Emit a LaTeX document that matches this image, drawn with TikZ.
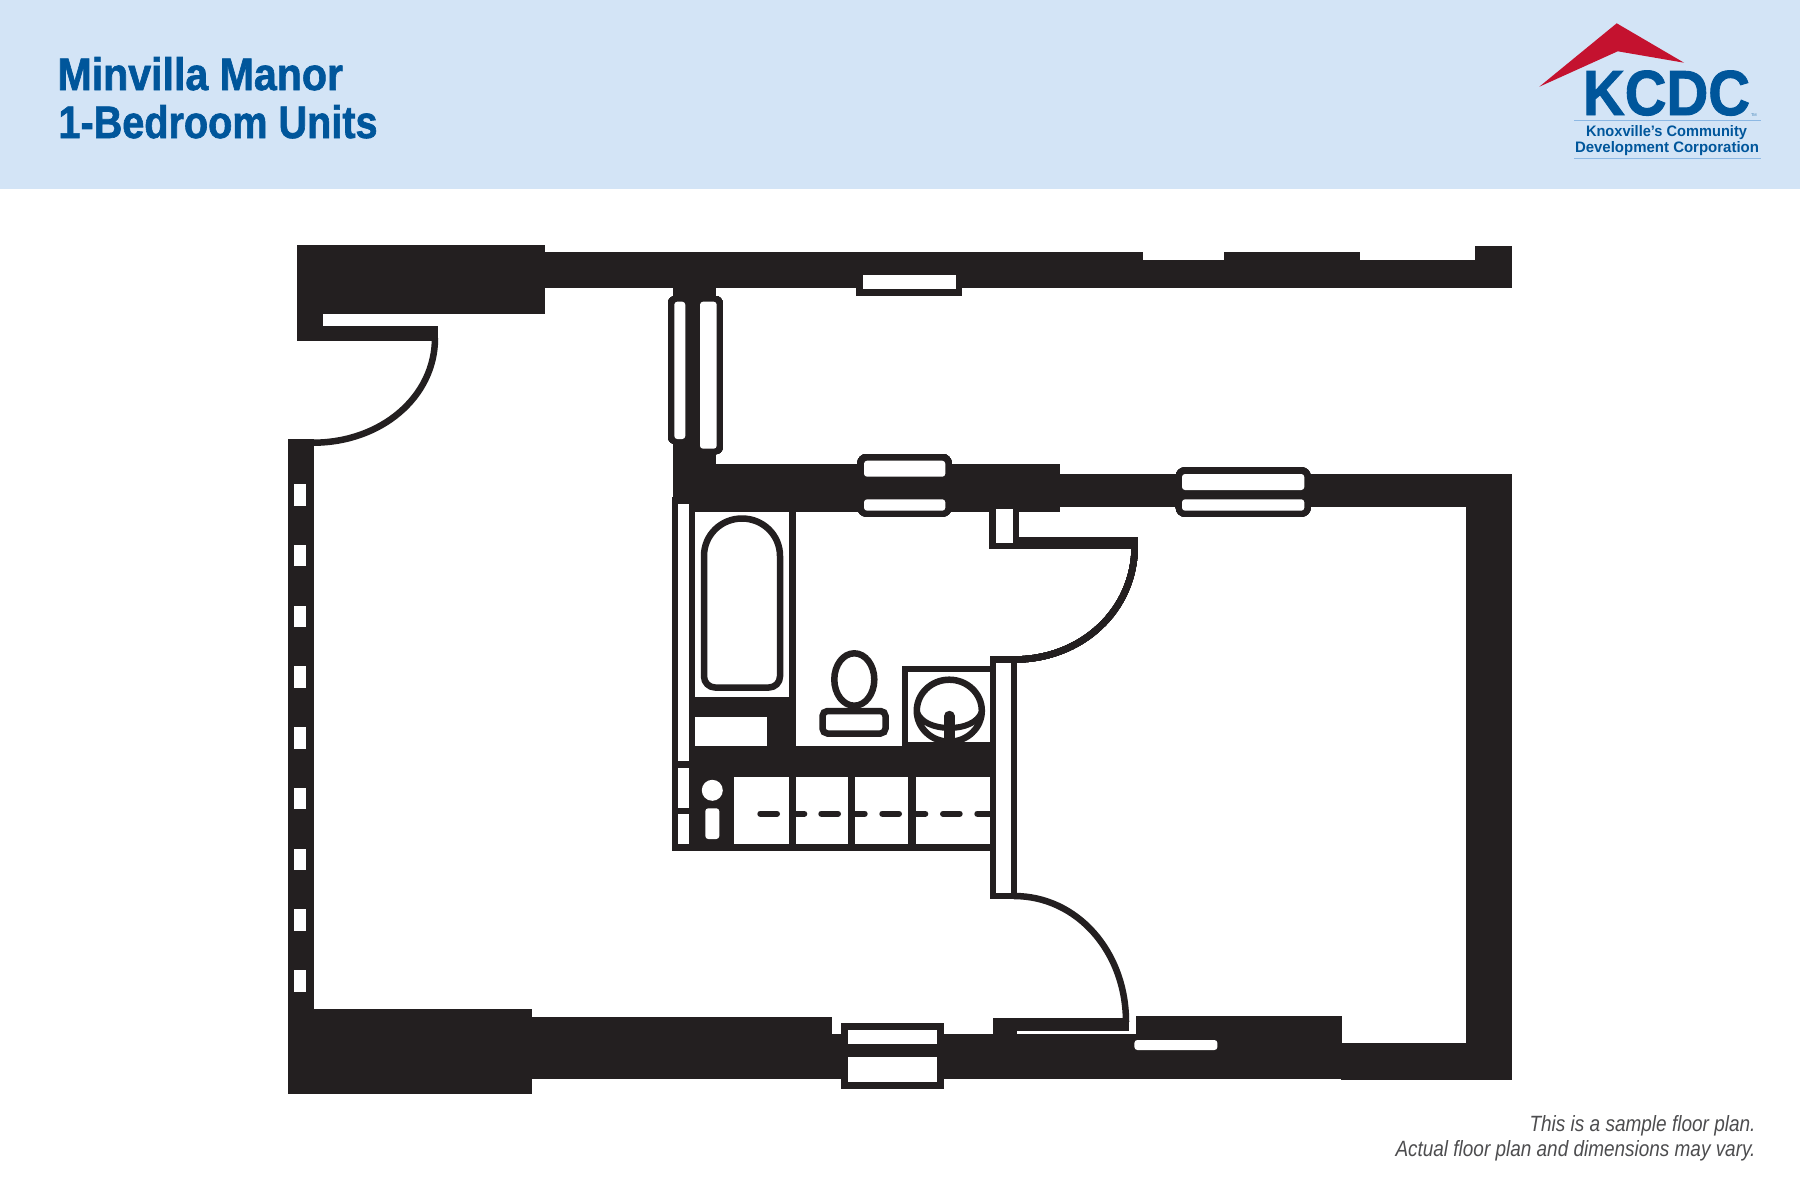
\documentclass[tikz,border=0pt]{standalone}
\usepackage{graphicx}
\usepackage{fontspec}
\setmainfont{Liberation Sans}
\newfontfamily\heavyfont[UprightFont=* Bold,FakeBold=1.5]{Liberation Sans}
\definecolor{hdr}{HTML}{D3E4F6}
\definecolor{kblue}{HTML}{00569B}
\definecolor{kred}{HTML}{C4122F}
\definecolor{kline}{HTML}{8DB8E3}
\definecolor{wallc}{HTML}{231F20}
\definecolor{noteg}{HTML}{4D4D4F}
\newcommand\wallrect[4]{\fill[wallc] (#1,#2) rectangle (#3,#4);}
\newcommand\openrect[4]{\fill[white] (#1,#2) rectangle (#3,#4);}
\newcommand\slotrect[4]{\fill[white,rounded corners=3pt] (#1,#2) rectangle (#3,#4);}
\newcommand\roundwall[5]{\fill[wallc,rounded corners=#5pt] (#1,#2) rectangle (#3,#4);}
\newcommand\fitbox[3]{\resizebox{#1pt}{#2pt}{#3}}
\tikzset{
  txt/.style={inner sep=0pt,outer sep=0pt,anchor=base west},
  thick line/.style={draw=wallc,line width=6.5pt},
  dashmark/.style={draw=wallc,line width=6pt,line cap=round},
}
\begin{document}
\begin{tikzpicture}[x=1pt,y=-1pt]
\useasboundingbox (0,0) rectangle (1800,1200);
\fill[white] (0,0) rectangle (1800,1200);
\fill[hdr] (0,0) rectangle (1800,189);
% title
\node[txt,text=kblue] (title1) at (57.5,90) {\fitbox{285.5}{33}{\heavyfont Minvilla Manor}};
\node[txt,text=kblue] (title2) at (58.5,138) {\fitbox{319}{33}{\heavyfont 1-Bedroom Units}};
% logo
\fill[kred] (1539.3,86.7) -- (1616.7,23.3) -- (1684,62.7) -- (1617.7,51.3) -- cycle;
\node[txt,text=kblue] (logoa) at (1583,115) {\fitbox{167}{44.5}{\heavyfont KCDC}};
\node[txt,text=kblue!70!hdr] (logotm) at (1751,116) {\fontsize{4}{4}\selectfont TM};
\draw[kline,line width=1pt] (1574,120.3) -- (1761,120.3);
\draw[kline,line width=1pt] (1574,158) -- (1761,158);
\node[txt,text=kblue] (logob) at (1586,136) {\fitbox{161}{11}{\bfseries Knoxville’s Community}};
\node[txt,text=kblue] (logoc) at (1575,152.7) {\fitbox{184}{11}{\bfseries Development Corporation}};
% note
\node[txt,text=noteg] (note1) at (1529.5,1131) {\fitbox{226}{16}{\itshape This is a sample floor plan.}};
\node[txt,text=noteg] (note2) at (1395.5,1156) {\fitbox{360}{16}{\itshape Actual floor plan and dimensions may vary.}};

% top-left block and door
\wallrect{297}{245.3}{544.6}{314.3}
\wallrect{297}{314}{323}{341}
\wallrect{297}{326}{438}{341}
\draw[thick line] (435,338) .. controls (435,397.2) and (380.8,442.7) .. (313,442.7);
% left wall
\wallrect{287.7}{439.3}{313.5}{1010}
\foreach \y in {484,544.75,605.5,666.25,727,787.75,848.5,909.25,970}
  \openrect{294.3}{\y}{306}{\y+21.7}
% top wall
\wallrect{544}{252.3}{1143.3}{288.3}
\wallrect{1143}{260.3}{1224.3}{288.3}
\wallrect{1224.3}{252.3}{1360}{288.3}
\wallrect{1360}{260.3}{1475.3}{288.3}
\wallrect{1475.3}{245.7}{1512}{288.3}
% top-wall window
\wallrect{856.3}{288}{962.3}{296}
\openrect{862.7}{275}{955.7}{289.3}
% stem with window
\wallrect{673.3}{288}{716}{470}
\roundwall{668}{296}{692}{444}{7}
\roundwall{695}{296}{722.7}{454.3}{7}
\wallrect{685}{296}{700}{444}
\slotrect{674.3}{301.7}{685.3}{439}
\slotrect{700}{301.7}{716.7}{448.7}
% second wall
\wallrect{673.3}{464.3}{1060}{511.7}
\wallrect{1060}{474}{1511.5}{507}
\roundwall{857.3}{454}{951.7}{516.7}{9}
\slotrect{864}{460.7}{945.3}{476.7}
\slotrect{864}{499.3}{945.3}{510.7}
\roundwall{1175.7}{467.3}{1310.7}{516.7}{9}
\slotrect{1182}{474}{1304.3}{490}
\slotrect{1182}{499.3}{1304.3}{510.7}
% right wall and bottom right
\wallrect{1466}{474}{1511.7}{1079.7}
\wallrect{1341}{1043.3}{1511.7}{1079.7}
% bottom wall
\wallrect{287.7}{1009}{531.7}{1094}
\wallrect{531}{1017.3}{832.4}{1079.3}
\wallrect{832}{1034.3}{1136}{1079.3}
\wallrect{993}{1018.3}{1016.5}{1034.3}
\wallrect{1016.5}{1018.3}{1129}{1030.7}
\wallrect{1136}{1015.7}{1341.8}{1079.3}
\slotrect{1134.4}{1040}{1217.4}{1050}
\wallrect{840.8}{1023}{943.8}{1088.7}
\openrect{847.7}{1030}{937}{1044}
\openrect{847.7}{1057}{937}{1081.7}
% upper door jamb and leaf
\wallrect{989.3}{509}{1019.3}{549.3}
\openrect{996}{509.3}{1012.7}{542.7}
\wallrect{1019}{537.3}{1138}{549.3}
\draw[thick line] (1134.7,546) .. controls (1134.7,610) and (1082,659.5) .. (1014,659.5);
% lower door
\draw[thick line] (1014,896) .. controls (1077,896) and (1126,951.5) .. (1126,1022);
% bath left column
\wallrect{671.5}{497.3}{695}{850.7}
\openrect{677.7}{504.3}{689}{761}
\openrect{677.7}{767.7}{689}{808.3}
\openrect{677.7}{814.3}{689}{844}
% tub alcove
\wallrect{789.3}{505}{796}{746}
\wallrect{695}{697.3}{796}{746}
\openrect{695}{717.3}{766.7}{746}
% band and closet
\wallrect{689}{746}{996}{776.7}
\wallrect{689}{776.7}{734.3}{850.7}
\wallrect{689}{844}{996}{850.7}
\wallrect{789.3}{776}{796}{850}
\wallrect{848}{776}{855}{850}
\wallrect{908.3}{776}{915.7}{850}
\fill[white] (712.3,790.3) circle[radius=10.5];
\slotrect{705.3}{808.3}{719.3}{839}
\draw[dashmark] (760.3,813.7) -- (777,813.7);
\draw[dashmark] (793,813.7) -- (804.3,813.7);
\draw[dashmark] (821.3,813.7) -- (838,813.7);
\draw[dashmark] (852,813.7) -- (864.7,813.7);
\draw[dashmark] (882.3,813.7) -- (899,813.7);
\draw[dashmark] (913,813.7) -- (925.3,813.7);
\draw[dashmark] (943,813.7) -- (959.7,813.7);
\draw[dashmark] (977.3,813.7) -- (992,813.7);
% central partition
\wallrect{990}{656}{1016.7}{899}
\openrect{996}{662.7}{1010.7}{892.7}
% sink box
\wallrect{901.7}{665.7}{996}{746}
\openrect{908.3}{672.3}{990}{741.7}
\begin{scope}
\clip (900,660) rectangle (992,742);
\draw[thick line] (949.3,710.7) ellipse[x radius=32.5,y radius=31];
\draw[thick line,line width=6pt] (917,712) .. controls (924,733.3) and (974.6,733.3) .. (981.6,712);
\end{scope}
\draw[wallc,line width=10.5pt,line cap=round] (949.3,716) -- (949.3,746);
% bathtub
\draw[thick line,line join=round] (704,556) .. controls (704,535) and (721,518.5) .. (742,518.5)
  .. controls (763,518.5) and (780,535) .. (780,556)
  -- (780,676.5) .. controls (780,682.5) and (775,687.5) .. (769,687.5)
  -- (715,687.5) .. controls (709,687.5) and (704,682.5) .. (704,676.5) -- cycle;
% toilet
\draw[thick line] (854.3,679.5) ellipse[x radius=20,y radius=26.2];
\draw[thick line,fill=white,rounded corners=5pt] (822.5,711) rectangle (885.5,733.5);
\end{tikzpicture}
\end{document}
